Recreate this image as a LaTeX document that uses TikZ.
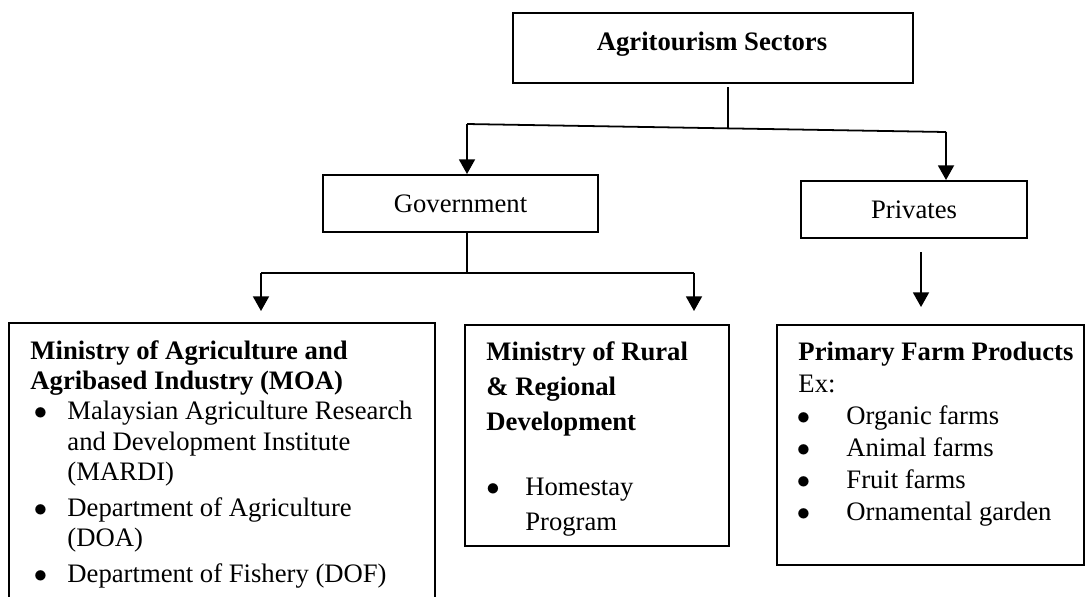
\documentclass[tikz,border=0pt]{standalone}
\usepackage{fontspec}
\setmainfont{Liberation Serif}
\usetikzlibrary{arrows.meta}

\tikzset{
  box/.style={draw, line width=0.9pt, inner sep=0pt, font=\fontsize{12}{13.6}\selectfont},
  conn/.style={line width=0.8pt},
  arr/.style={conn, -{Triangle[width=7.2pt,length=6.6pt]}},
  txt/.style={inner sep=0pt, align=left}
}
\newcommand{\bul}[2]{\makebox[#2][l]{\hspace*{#1}$\bullet$}}

\begin{document}
\begin{tikzpicture}[x=0.45pt, y=-0.45pt]
      \clip (0,0) rectangle (1085,596);

      % Setores
      \node[box, minimum width=180pt, minimum height=31.5pt] (sectors) at (713,48) {};
      \node[txt, anchor=base, font=\fontsize{12}{13.6}\selectfont\bfseries] (sectorstxt) at (712,50) {Agritourism Sectors};

      \node[box, minimum width=123.75pt, minimum height=25.65pt] (gov) at (460.5,203.5) {Government};
      \node[box, minimum width=101.7pt, minimum height=25.65pt] (priv) at (914,209.5) {Privates};

      % Caixas de baixo
      \node[box, minimum width=191.7pt, minimum height=133.65pt] (moa) at (222,471.5) {};
      \node[box, minimum width=118.8pt, minimum height=99.45pt] (mrd) at (597,435.5) {};
      \node[box, minimum width=138.15pt, minimum height=108pt] (pfp) at (930.5,445) {};

      % Textos das caixas (base = ultima linha)
      \node[txt, anchor=base west, font=\fontsize{12}{13.6}\selectfont] (moatxt) at (30,582)
        {\textbf{Ministry of Agriculture and}\\
         \textbf{Agribased Industry (MOA)}\\
         \bul{1.5pt}{16.65pt}Malaysian Agriculture Research\\
         \hspace*{16.65pt}and Development Institute\\
         \hspace*{16.65pt}(MARDI)\\[2.5pt]
         \bul{1.5pt}{16.65pt}Department of Agriculture\\
         \hspace*{16.65pt}(DOA)\\[2.5pt]
         \bul{1.5pt}{16.65pt}Department of Fishery (DOF)};
      \node[txt, anchor=base west, font=\fontsize{12}{15.75}\selectfont] (mrdtxt) at (486,530)
        {\textbf{Ministry of Rural}\\
         \textbf{\& Regional}\\
         \textbf{Development}\\[13.5pt]
         \bul{0pt}{17.5pt}Homestay\\
         \hspace*{17.5pt}Program};
      \node[txt, anchor=base west, font=\fontsize{12}{14.4}\selectfont] (pfptxt) at (798,520)
        {\textbf{Primary Farm Products}\\
         Ex:\\
         \bul{-0.75pt}{21.6pt}Organic farms\\
         \bul{-0.75pt}{21.6pt}Animal farms\\
         \bul{-0.75pt}{21.6pt}Fruit farms\\
         \bul{-0.75pt}{21.6pt}Ornamental garden};

      % Setas do topo
      \coordinate (tsplit) at (728,128);
      \coordinate (tl) at (467,124);
      \coordinate (tr) at (946,132);
      \draw[conn, shorten <=1.35pt] (sectors.south -| tsplit) -- (tsplit);
      \draw[conn] (tl) -- (tr);
      \draw[arr] (tl) -- (tl |- gov.north);
      \draw[arr] (tr) -- (tr |- priv.north);

      % Setas do governo
      \coordinate (gsplit) at (467,273);
      \coordinate (gl) at (261,273);
      \coordinate (gr) at (694,273);
      \draw[conn] (gov.south -| gsplit) -- (gsplit);
      \draw[conn] (gl) -- (gr);
      \draw[arr, shorten >=4.95pt] (gl) -- (gl |- moa.north);
      \draw[arr, shorten >=5.85pt] (gr) -- (gr |- mrd.north);

      % Seta dos privados
      \coordinate (pa) at (921,252);
      \draw[arr, shorten >=7.65pt] (pa) -- (pa |- pfp.north);
    \end{tikzpicture}
\end{document}
